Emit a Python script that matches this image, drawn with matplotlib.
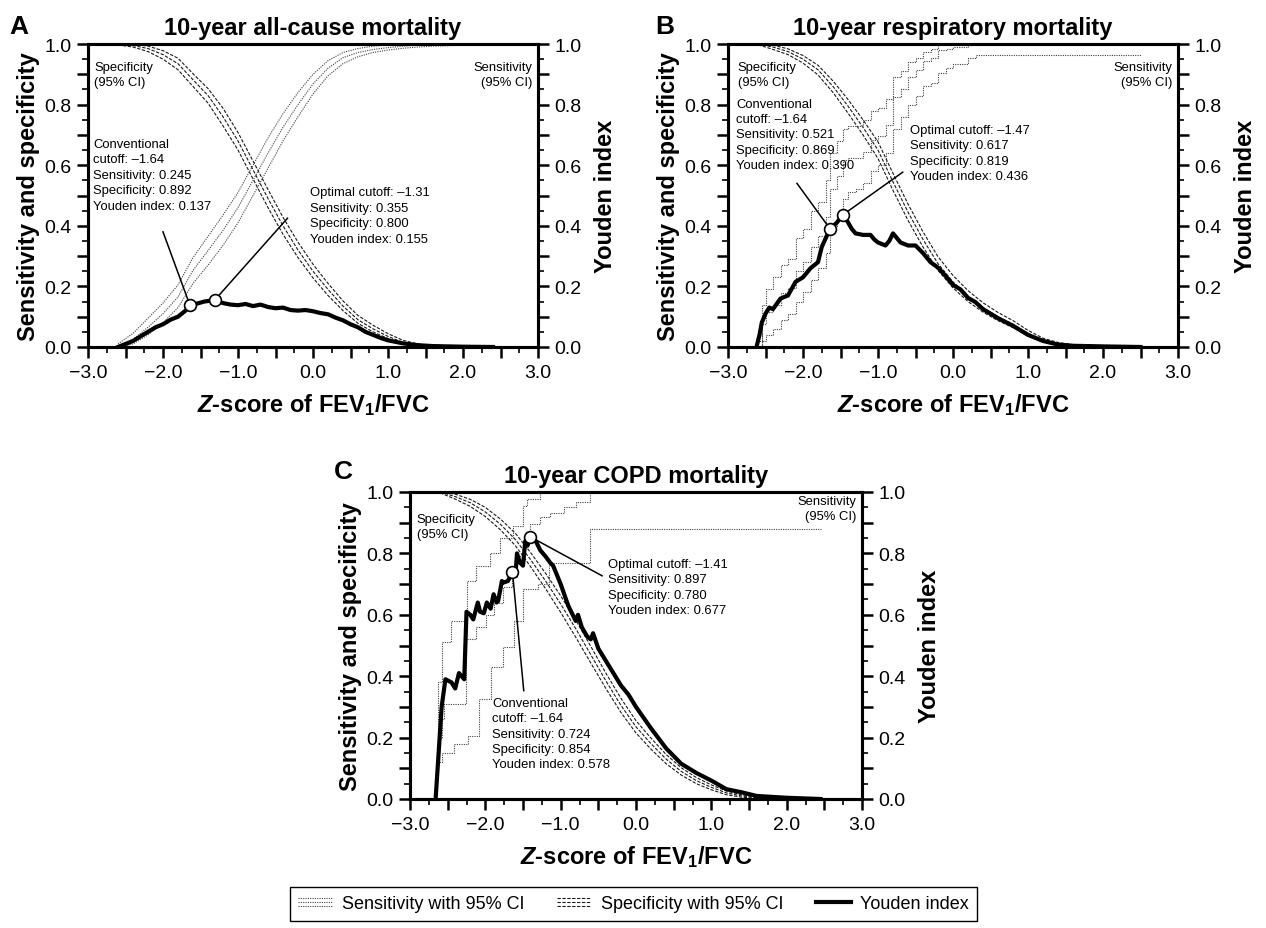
import matplotlib
matplotlib.use("Agg")
import matplotlib.pyplot as plt
from matplotlib.ticker import MultipleLocator, FuncFormatter
from matplotlib.legend_handler import HandlerBase
from matplotlib.lines import Line2D

plt.rcParams["font.family"] = "Liberation Sans"
plt.rcParams["mathtext.fontset"] = "custom"
plt.rcParams["mathtext.rm"] = "Liberation Sans:bold"
plt.rcParams["mathtext.it"] = "Liberation Sans:italic:bold"
plt.rcParams["mathtext.bf"] = "Liberation Sans:bold"

# ---------------- data ----------------
titles = ["10-year all-cause mortality", "10-year respiratory mortality", "10-year COPD mortality"]
letters = ["A", "B", "C"]

# A: all-cause
a_x = [-2.6, -2.4, -2.2, -2.0, -1.8, -1.6, -1.4, -1.2, -1.0, -0.8, -0.6, -0.4, -0.2, 0.0,
       0.2, 0.4, 0.6, 0.8, 1.0, 1.2, 1.4, 1.6, 2.0, 2.4]
a_sens = [0.0, 0.025, 0.065, 0.11, 0.165, 0.253, 0.318, 0.385, 0.46, 0.55, 0.64, 0.725, 0.80, 0.868,
          0.92, 0.955, 0.972, 0.982, 0.988, 0.993, 0.996, 0.998, 0.999, 1.0]
a_sens_lo = [0.0, 0.01, 0.04, 0.08, 0.13, 0.21, 0.27, 0.335, 0.41, 0.50, 0.59, 0.68, 0.76, 0.835,
             0.895, 0.935, 0.958, 0.972, 0.98, 0.986, 0.99, 0.993, 0.996, 0.998]
a_sens_hi = [0.01, 0.045, 0.095, 0.145, 0.205, 0.295, 0.365, 0.435, 0.51, 0.60, 0.69, 0.77, 0.84, 0.90,
             0.945, 0.972, 0.985, 0.993, 0.997, 1.0, 1.0, 1.0, 1.0, 1.0]
a_spec = [1.0, 0.995, 0.985, 0.965, 0.935, 0.882, 0.83, 0.76, 0.68, 0.585, 0.49, 0.40, 0.32, 0.25,
          0.19, 0.135, 0.09, 0.06, 0.035, 0.015, 0.006, 0.002, 0.0, 0.0]
a_spec_lo = [0.997, 0.99, 0.975, 0.95, 0.915, 0.86, 0.805, 0.73, 0.65, 0.555, 0.46, 0.372, 0.295, 0.228,
             0.17, 0.12, 0.078, 0.05, 0.028, 0.01, 0.003, 0.001, 0.0, 0.0]
a_spec_hi = [1.0, 0.999, 0.993, 0.978, 0.953, 0.902, 0.853, 0.788, 0.708, 0.614, 0.52, 0.428, 0.346, 0.273,
             0.21, 0.152, 0.104, 0.072, 0.044, 0.022, 0.01, 0.004, 0.001, 0.0]
a_jx = [-2.6, -2.5, -2.4, -2.3, -2.2, -2.1, -2.0, -1.9, -1.8, -1.7, -1.64, -1.55, -1.45, -1.31,
        -1.2, -1.1, -1.0, -0.9, -0.8, -0.7, -0.6, -0.5, -0.4, -0.3, -0.2, -0.1, 0.0, 0.1, 0.2,
        0.3, 0.4, 0.5, 0.6, 0.7, 0.8, 0.9, 1.0, 1.2, 1.4, 1.6, 2.0, 2.4]
a_j = [0.0, 0.01, 0.02, 0.035, 0.05, 0.065, 0.075, 0.09, 0.10, 0.12, 0.137, 0.143, 0.15, 0.155,
       0.145, 0.14, 0.138, 0.142, 0.135, 0.14, 0.132, 0.128, 0.13, 0.122, 0.12, 0.122, 0.118, 0.112, 0.108,
       0.097, 0.088, 0.075, 0.065, 0.05, 0.04, 0.03, 0.022, 0.012, 0.006, 0.003, 0.001, 0.0]

# B: respiratory
b_x = [-2.6, -2.5, -2.4, -2.2, -2.0, -1.8, -1.6, -1.4, -1.2, -1.0, -0.8, -0.6, -0.4, -0.2, 0.0,
       0.2, 0.4, 0.6, 0.8, 1.0, 1.2, 1.4, 1.6, 2.0, 2.5]
b_spec = [1.0, 0.995, 0.99, 0.975, 0.95, 0.915, 0.86, 0.795, 0.725, 0.65, 0.545, 0.445, 0.355, 0.275, 0.215,
          0.168, 0.13, 0.10, 0.075, 0.045, 0.022, 0.01, 0.005, 0.002, 0.0]
b_spec_lo = [0.997, 0.99, 0.982, 0.965, 0.937, 0.898, 0.84, 0.772, 0.70, 0.622, 0.517, 0.418, 0.33, 0.253, 0.195,
             0.15, 0.115, 0.087, 0.064, 0.036, 0.016, 0.006, 0.002, 0.0, 0.0]
b_spec_hi = [1.0, 0.999, 0.996, 0.984, 0.962, 0.93, 0.878, 0.817, 0.75, 0.677, 0.573, 0.472, 0.38, 0.298, 0.236,
             0.186, 0.146, 0.114, 0.087, 0.055, 0.029, 0.015, 0.008, 0.004, 0.001]
b_sx = [-2.62, -2.55, -2.5, -2.4, -2.3, -2.2, -2.1, -2.0, -1.9, -1.8, -1.7, -1.64, -1.55, -1.47, -1.4, -1.3,
        -1.2, -1.1, -1.0, -0.9, -0.8, -0.7, -0.6, -0.5, -0.4, -0.3, -0.2, -0.1, 0.0, 0.2, 0.3, 2.5]
b_sens = [0.0, 0.075, 0.115, 0.14, 0.178, 0.195, 0.25, 0.28, 0.33, 0.365, 0.43, 0.521, 0.565, 0.617, 0.625, 0.625,
          0.645, 0.683, 0.695, 0.733, 0.825, 0.853, 0.89, 0.915, 0.945, 0.955, 0.98, 0.985, 0.99, 1.0, 1.0, 1.0]
b_sens_lo = [0.0, 0.02, 0.04, 0.06, 0.09, 0.11, 0.15, 0.18, 0.22, 0.26, 0.31, 0.40, 0.44, 0.49, 0.51, 0.52,
             0.54, 0.58, 0.60, 0.64, 0.72, 0.76, 0.80, 0.83, 0.86, 0.87, 0.905, 0.92, 0.935, 0.955, 0.965, 0.965]
b_sens_hi = [0.02, 0.14, 0.19, 0.23, 0.27, 0.29, 0.36, 0.39, 0.45, 0.48, 0.55, 0.64, 0.68, 0.72, 0.73, 0.73,
             0.75, 0.78, 0.79, 0.82, 0.89, 0.91, 0.94, 0.955, 0.975, 0.985, 1.0, 1.0, 1.0, 1.0, 1.0, 1.0]
b_jx = [-2.62, -2.58, -2.55, -2.5, -2.45, -2.4, -2.3, -2.2, -2.1, -2.0, -1.9, -1.8, -1.75, -1.64, -1.55, -1.47,
        -1.42, -1.35, -1.3, -1.2, -1.1, -1.05, -1.0, -0.9, -0.85, -0.8, -0.75, -0.7, -0.6, -0.5, -0.4, -0.3,
        -0.2, -0.1, 0.0, 0.1, 0.2, 0.3, 0.4, 0.6, 0.8, 1.0, 1.2, 1.4, 1.6, 2.0, 2.5]
b_j = [0.0, 0.04, 0.08, 0.11, 0.13, 0.125, 0.16, 0.17, 0.215, 0.23, 0.26, 0.28, 0.33, 0.39, 0.41, 0.436,
       0.42, 0.39, 0.375, 0.37, 0.37, 0.355, 0.345, 0.335, 0.35, 0.375, 0.36, 0.345, 0.335, 0.335, 0.31, 0.28,
       0.262, 0.235, 0.205, 0.19, 0.162, 0.148, 0.125, 0.095, 0.07, 0.04, 0.02, 0.008, 0.004, 0.002, 0.0]

# C: COPD
c_x = [-2.6, -2.4, -2.2, -2.0, -1.8, -1.6, -1.4, -1.2, -1.0, -0.8, -0.6, -0.4, -0.2, 0.0,
       0.2, 0.4, 0.6, 0.8, 1.0, 1.2, 1.4, 1.6, 2.0, 2.4]
c_spec = [1.0, 0.985, 0.965, 0.935, 0.895, 0.845, 0.78, 0.71, 0.635, 0.555, 0.47, 0.385, 0.305, 0.235,
          0.18, 0.13, 0.09, 0.06, 0.038, 0.02, 0.01, 0.004, 0.001, 0.0]
c_spec_lo = [0.997, 0.977, 0.953, 0.92, 0.877, 0.825, 0.757, 0.685, 0.608, 0.527, 0.443, 0.36, 0.282, 0.215,
             0.162, 0.115, 0.078, 0.05, 0.03, 0.014, 0.006, 0.002, 0.0, 0.0]
c_spec_hi = [1.0, 0.993, 0.976, 0.95, 0.912, 0.865, 0.803, 0.735, 0.662, 0.583, 0.497, 0.41, 0.328, 0.255,
             0.198, 0.145, 0.102, 0.07, 0.046, 0.026, 0.014, 0.006, 0.002, 0.0]
c_sx = [-2.66, -2.62, -2.58, -2.55, -2.26, -2.12, -1.99, -1.89, -1.77, -1.64, -1.58, -1.47, -1.41, -1.28,
        -1.14, -0.95, -0.79, -0.61, 2.45]
c_sens = [0.12, 0.20, 0.26, 0.31, 0.52, 0.56, 0.60, 0.64, 0.69, 0.724, 0.79, 0.86, 0.897, 0.92,
          0.93, 0.95, 0.967, 1.0, 1.0]
c_hi_x = [-2.66, -2.63, -2.57, -2.45, -2.25, -2.12, -1.94, -1.80, -1.63, -1.50, -1.45, -1.27, 2.45]
c_sens_hi = [0.12, 0.38, 0.51, 0.58, 0.71, 0.76, 0.80, 0.85, 0.89, 0.955, 0.977, 1.0, 1.0]
c_lo_x = [-2.64, -2.58, -2.42, -2.23, -2.08, -1.92, -1.76, -1.62, -1.50, -1.30, -1.15, -0.61, 2.45]
c_sens_lo = [0.12, 0.15, 0.18, 0.205, 0.326, 0.43, 0.495, 0.58, 0.684, 0.70, 0.77, 0.88, 0.88]
c_jx = [-2.66, -2.62, -2.58, -2.53, -2.45, -2.40, -2.35, -2.28, -2.25, -2.20, -2.16, -2.10, -2.07, -2.02,
        -1.98, -1.93, -1.89, -1.85, -1.83, -1.78, -1.76, -1.70, -1.64, -1.60, -1.58, -1.54, -1.50, -1.47,
        -1.44, -1.41, -1.33, -1.27, -1.20, -1.14, -1.10, -1.05, -1.0, -0.9, -0.8, -0.77, -0.72, -0.65,
        -0.6, -0.57, -0.5, -0.4, -0.3, -0.2, -0.1, 0.0, 0.2, 0.4, 0.6, 0.8, 1.0, 1.2, 1.4, 1.6, 2.0, 2.45]
c_j = [0.0, 0.15, 0.30, 0.39, 0.38, 0.36, 0.41, 0.39, 0.61, 0.60, 0.585, 0.64, 0.61, 0.605,
       0.64, 0.62, 0.667, 0.64, 0.645, 0.71, 0.705, 0.71, 0.74, 0.73, 0.80, 0.77, 0.76, 0.84,
       0.825, 0.855, 0.84, 0.81, 0.79, 0.77, 0.76, 0.73, 0.70, 0.63, 0.58, 0.60, 0.56, 0.53,
       0.52, 0.54, 0.49, 0.45, 0.41, 0.37, 0.34, 0.30, 0.23, 0.165, 0.115, 0.085, 0.06, 0.032, 0.022, 0.01, 0.004, 0.0]

# cutoffs and reported statistics: [conventional, optimal]
cut_a = [-1.64, -1.31]; sens_at_a = [0.245, 0.355]; spec_at_a = [0.892, 0.800]; youden_at_a = [0.137, 0.155]
cut_b = [-1.64, -1.47]; sens_at_b = [0.521, 0.617]; spec_at_b = [0.869, 0.819]; youden_at_b = [0.390, 0.436]
cut_c = [-1.64, -1.41]; sens_at_c = [0.724, 0.897]; spec_at_c = [0.854, 0.780]; youden_at_c = [0.578, 0.677]
mark_y_c = [0.74, 0.855]   # where the circles sit on panel C's plotted curve

panels = [
    dict(spec=(a_x, a_spec, a_spec_lo, a_spec_hi), sens=[(a_x, a_sens), (a_x, a_sens_lo), (a_x, a_sens_hi)],
         steps=False, j=(a_jx, a_j), cut=cut_a, sens_at=sens_at_a, spec_at=spec_at_a, yi=youden_at_a, mark_y=youden_at_a),
    dict(spec=(b_x, b_spec, b_spec_lo, b_spec_hi), sens=[(b_sx, b_sens), (b_sx, b_sens_lo), (b_sx, b_sens_hi)],
         steps=True, j=(b_jx, b_j), cut=cut_b, sens_at=sens_at_b, spec_at=spec_at_b, yi=youden_at_b, mark_y=youden_at_b),
    dict(spec=(c_x, c_spec, c_spec_lo, c_spec_hi), sens=[(c_sx, c_sens), (c_lo_x, c_sens_lo), (c_hi_x, c_sens_hi)],
         steps=True, j=(c_jx, c_j), cut=cut_c, sens_at=sens_at_c, spec_at=spec_at_c, yi=youden_at_c, mark_y=mark_y_c),
]

# ---------------- layout (pixels of a 1266x929 canvas) ----------------
W, H = 1266, 929
boxes = [(88, 45, 450, 303), (728, 45, 450, 303), (410, 493, 452, 307)]   # left, top, width, height
letter_pos = [(19, 27), (665, 27), (343, 472)]
# text anchors in data units
lay = [
    dict(spec_lbl=(-2.92, 0.945), sens_lbl=(2.92, 0.945), conv_txt=(-2.93, 0.69), conv_from=(-2.0, 0.38),
         opt_txt=(-0.04, 0.53), opt_from=(-0.34, 0.425)),
    dict(spec_lbl=(-2.87, 0.945), sens_lbl=(2.92, 0.945), conv_txt=(-2.89, 0.823), conv_from=(-2.08, 0.54),
         opt_txt=(-0.57, 0.737), opt_from=(-0.67, 0.577)),
    dict(spec_lbl=(-2.91, 0.933), sens_lbl=(2.93, 0.99), conv_txt=(-1.91, 0.333), conv_from=(-1.49, 0.353),
         opt_txt=(-0.37, 0.786), opt_from=(-0.45, 0.727)),
]

DOT = (0, (1, 1.1))
DASH = (0, (3, 1.4))
ANN = 9.4
ANN_LS = 1.38


def fmt_y(v, pos):
    return f"{v:.1f}" if int(round(v * 10)) % 2 == 0 else ""


def fmt_x(v, pos):
    if abs(v - round(v)) > 1e-6:
        return ""
    s = f"{v:.1f}"
    return "0.0" if s == "-0.0" else s.replace("-", "\u2212")


def style_axis(ax):
    ax.set_xlim(-3, 3)
    ax.set_ylim(0, 1)
    for s in ax.spines.values():
        s.set_linewidth(2.2)
    ax.xaxis.set_major_locator(MultipleLocator(0.5))
    ax.xaxis.set_minor_locator(MultipleLocator(0.25))
    ax.yaxis.set_major_locator(MultipleLocator(0.1))
    ax.yaxis.set_minor_locator(MultipleLocator(0.05))
    ax.xaxis.set_major_formatter(FuncFormatter(fmt_x))
    ax.yaxis.set_major_formatter(FuncFormatter(fmt_y))
    ax.tick_params(which="major", direction="out", length=8, width=1.8, labelsize=14, pad=4)
    ax.tick_params(which="minor", direction="out", length=4.5, width=1.2)
    ax.tick_params(top=False, right=False, which="both")


fig = plt.figure(figsize=(W / 100, H / 100), dpi=100)

for i, p in enumerate(panels):
    l, t, w, h = boxes[i]
    ax = fig.add_axes([l / W, 1 - (t + h) / H, w / W, h / H])
    style_axis(ax)
    ax2 = ax.twinx()
    style_axis(ax2)
    ax2.tick_params(left=False, labelleft=False, right=True, labelright=True, bottom=False, labelbottom=False,
                    which="both")

    sx, s_est, s_lo, s_hi = p["spec"]
    for yy in (s_lo, s_est, s_hi):
        ax.plot(sx, yy, ls=DASH, lw=0.8, color="0.1", zorder=2)
    for xx, yy in p["sens"]:
        ax.plot(xx, yy, ls=DOT, lw=0.8, color="0.25", zorder=2,
                drawstyle="steps-post" if p["steps"] else "default")
    jx, jy = p["j"]
    ax.plot(jx, jy, color="black", lw=3.0, solid_joinstyle="round", zorder=3)

    L = lay[i]
    ax.text(*L["spec_lbl"], "Specificity\n(95% CI)", fontsize=ANN, ha="left", va="top", linespacing=ANN_LS)
    ax.text(*L["sens_lbl"], "Sensitivity\n(95% CI)", fontsize=ANN, ha="right", va="top", linespacing=ANN_LS)

    conv = (f"Conventional\ncutoff: \u2013{abs(p['cut'][0]):.2f}\nSensitivity: {p['sens_at'][0]:.3f}\n"
            f"Specificity: {p['spec_at'][0]:.3f}\nYouden index: {p['yi'][0]:.3f}")
    opt = (f"Optimal cutoff: \u2013{abs(p['cut'][1]):.2f}\nSensitivity: {p['sens_at'][1]:.3f}\n"
           f"Specificity: {p['spec_at'][1]:.3f}\nYouden index: {p['yi'][1]:.3f}")
    ax.text(*L["conv_txt"], conv, fontsize=ANN, ha="left", va="top", linespacing=ANN_LS, zorder=1)
    ax.text(*L["opt_txt"], opt, fontsize=ANN, ha="left", va="top", linespacing=ANN_LS, zorder=1)

    for k, key in enumerate(("conv_from", "opt_from")):
        x0, y0 = L[key]
        ax.plot([x0, p["cut"][k]], [y0, p["mark_y"][k]], color="black", lw=1.1, zorder=4)
    ax.plot(p["cut"], p["mark_y"], "o", ms=8.5, mfc="white", mec="black", mew=1.2, zorder=5, clip_on=False)

    ax.set_title(titles[i], fontsize=17, fontweight="bold", pad=7)
    ax.set_ylabel("Sensitivity and specificity", fontsize=17, fontweight="bold")
    ax.yaxis.set_label_coords(-48 / w, 0.5)
    ax2.set_ylabel("Youden index", fontsize=17, fontweight="bold")
    ax2.yaxis.set_label_coords(1 + 56 / w, 0.5)
    ax.set_xlabel("$Z$-score of FEV$_1$/FVC", fontsize=17, fontweight="bold")
    ax.xaxis.set_label_coords(0.5, -44 / h)

    lx, ly = letter_pos[i]
    fig.text(lx / W, 1 - ly / H, letters[i], fontsize=19, fontweight="bold", ha="center", va="center")


class StackedLines(HandlerBase):
    def __init__(self, ls, color):
        super().__init__()
        self.ls = ls
        self.color = color

    def create_artists(self, legend, orig_handle, xdescent, ydescent, width, height, fontsize, trans):
        arts = []
        for k in (-1, 0, 1):
            y = height / 2 - ydescent + k * 0.3 * height
            ln = Line2D([-xdescent, width - xdescent], [y, y], ls=self.ls, lw=0.8, color=self.color)
            ln.set_transform(trans)
            arts.append(ln)
        return arts


h_sens = Line2D([], [], ls=DOT, color="0.25")
h_spec = Line2D([], [], ls=DASH, color="0.1")
h_j = Line2D([], [], lw=3.0, color="black")
leg = fig.legend([h_sens, h_spec, h_j], ["Sensitivity with 95% CI", "Specificity with 95% CI", "Youden index"],
                 handler_map={h_sens: StackedLines(DOT, "0.25"), h_spec: StackedLines(DASH, "0.1")},
                 loc="center", bbox_to_anchor=(633.5 / W, 1 - 905 / H), ncol=3, fontsize=13,
                 frameon=True, fancybox=False, edgecolor="black", framealpha=1,
                 handlelength=1.9, handletextpad=0.55, columnspacing=1.8, borderpad=0.45)
leg.get_frame().set_linewidth(1.0)

fig.savefig("out.png", dpi=100)
